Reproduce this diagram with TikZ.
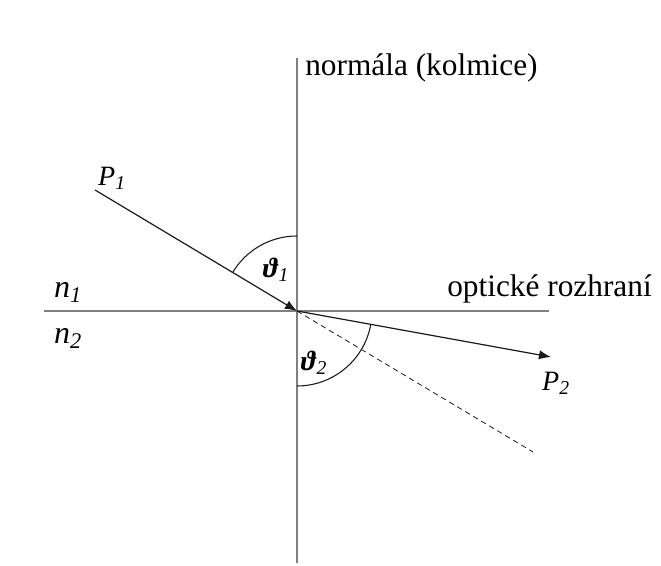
\documentclass[tikz,border=0pt]{standalone}
\usepackage{fontspec}
\setmainfont{Liberation Serif}
\usetikzlibrary{arrows.meta, positioning, calc}
\definecolor{axis}{HTML}{808080}
\definecolor{ink}{HTML}{1A1A1A}
\tikzset{
  ray/.style={ink,line width=0.9pt,-{Latex[length=9pt,width=7pt]}},
  arcline/.style={ink,line width=0.8pt},
  lbl/.style={font=\fontsize{21}{25}\selectfont},
  bigtext/.style={anchor=base west,inner sep=0pt,font=\fontsize{23.5}{28}\selectfont}
}

\begin{document}
\begin{tikzpicture}[x=0.75pt, y=0.75pt]
    \useasboundingbox(0,0)rectangle(661,566);
    \coordinate(O)at(297,255);
    \coordinate(nTop)at(297,508);\coordinate(nBot)at(297,3);
    \coordinate(iL)at(44,255);\coordinate(iR)at(549,255);
    \coordinate(p1)at(95,376);\coordinate(p2)at(551,209);\coordinate(pd)at(533,114);
    \draw[axis,line width=1.5pt](nBot)--(nTop);\draw[axis,line width=1.5pt](iL)--(iR);
    \draw[ray](p1)--(O);
    \draw[ray](O)--(p2);
    \draw[ink,line width=0.6pt,dash pattern=on 4pt off 3pt](O)--(pd);
    \draw[arcline]($(O)+(90:75)$)arc(90:149.1:75);
    \draw[arcline]($(O)+(270:75)$)arc(270:349.7:75);
    \node[lbl](th1)at(276,296){\textbf{\textit{ϑ}}\textsubscript{\textit{1}}};
    \node[lbl](th2)at(314,203){\textbf{\textit{ϑ}}\textsubscript{\textit{2}}};
    \node[lbl](P1)at(112,388){\textit{P}\textsubscript{\textit{1}}};
    \node[lbl](P2)at(556,183){\textit{P}\textsubscript{\textit{2}}};
    \node[lbl,font=\fontsize{24}{28}\selectfont](n1)at(68,274){\textit{n}\textsubscript{\textit{1}}};
    \node[lbl,font=\fontsize{24}{28}\selectfont](n2)at(68,228){\textit{n}\textsubscript{\textit{2}}};
    \node[bigtext](normal)at(305,490){normála (kolmice)};
    \node[bigtext](iface)at(447,269){optické rozhraní};
  \end{tikzpicture}
\end{document}
